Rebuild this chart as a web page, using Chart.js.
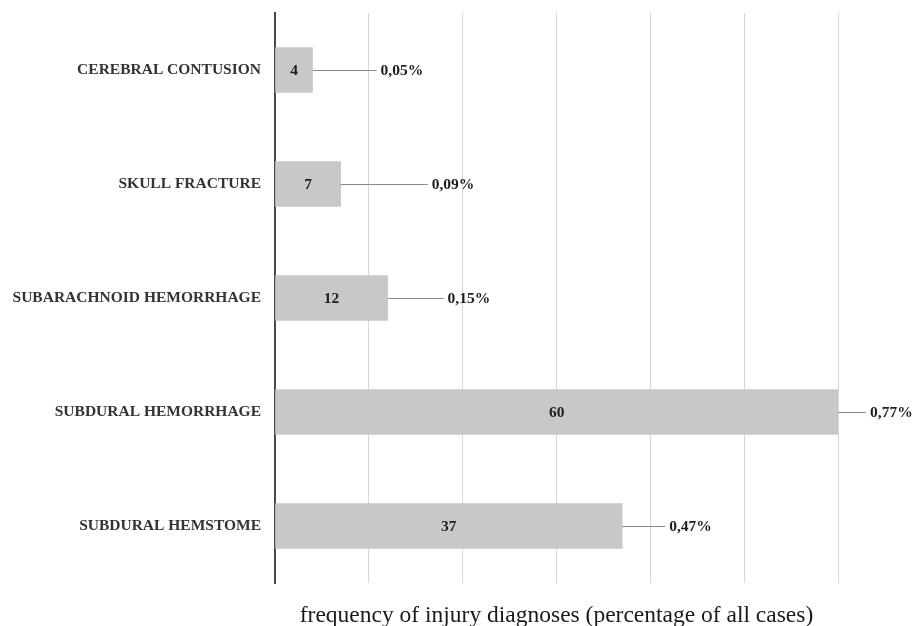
<!DOCTYPE html>
<html>
<head>
<meta charset="utf-8">
<script src="https://cdn.jsdelivr.net/npm/chart.js@4/dist/chart.umd.min.js"></script>
<style>
  html, body { margin: 0; padding: 0; background: #ffffff; }
  #wrap { width: 915px; height: 626px; position: relative; }
</style>
</head>
<body>
<div id="wrap"><canvas id="chart"></canvas></div>
<script>
// Diagnoses and case counts
const categories = [
  'CEREBRAL CONTUSION',
  'SKULL FRACTURE',
  'SUBARACHNOID HEMORRHAGE',
  'SUBDURAL HEMORRHAGE',
  'SUBDURAL HEMSTOME'
];
const caseCounts = [4, 7, 12, 60, 37];
const shareLabels = ['0,05%', '0,09%', '0,15%', '0,77%', '0,47%'];
const axisTitle = 'frequency of injury diagnoses (percentage of all cases)';

// Leader line length (px) from each bar end to its share label
const leaderLengths = [64, 87, 56, 28, 43];

const serifBold = { family: '"Liberation Serif", "Times New Roman", serif', size: 15.5, weight: 'bold' };

// Count inside each bar, and a leader line out to the percentage share
const barAnnotations = {
  id: 'barAnnotations',
  afterDatasetsDraw(chart) {
    const ctx = chart.ctx;
    const meta = chart.getDatasetMeta(0);
    ctx.save();
    ctx.font = `bold ${serifBold.size}px ${serifBold.family}`;
    ctx.textBaseline = 'middle';
    meta.data.forEach((bar, i) => {
      const xStart = bar.base;
      const xEnd = bar.x;
      const y = bar.y;
      // count centred in bar
      ctx.fillStyle = '#1e1e1e';
      ctx.textAlign = 'center';
      ctx.fillText(String(caseCounts[i]), (xStart + xEnd) / 2, y + 1);
      // leader line
      const lineEnd = xEnd + leaderLengths[i];
      ctx.strokeStyle = '#8a8a8a';
      ctx.lineWidth = 1;
      ctx.beginPath();
      ctx.moveTo(xEnd, y + 0.5);
      ctx.lineTo(lineEnd, y + 0.5);
      ctx.stroke();
      // share label
      ctx.fillStyle = '#1e1e1e';
      ctx.textAlign = 'left';
      ctx.fillText(shareLabels[i], lineEnd + 4, y + 1);
    });
    ctx.restore();
  }
};

new Chart(document.getElementById('chart'), {
  type: 'bar',
  data: {
    labels: categories,
    datasets: [{
      data: caseCounts,
      backgroundColor: '#c8c8c8',
      borderWidth: 0,
      barThickness: 45
    }]
  },
  options: {
    indexAxis: 'y',
    responsive: true,
    maintainAspectRatio: false,
    animation: false,
    layout: { padding: { top: 13, right: 77, bottom: 0, left: 0 } },
    plugins: {
      legend: { display: false },
      tooltip: { enabled: false }
    },
    scales: {
      x: {
        min: 0,
        max: 60,
        ticks: { display: false, stepSize: 10 },
        grid: { color: '#d6d6d6', lineWidth: 1, drawTicks: false },
        border: { display: false },
        title: {
          display: true,
          text: axisTitle,
          color: '#1a1a1a',
          font: { family: '"Liberation Serif", "Times New Roman", serif', size: 23.5, lineHeight: 0.85 },
          padding: { top: 0, bottom: 0 }
        },
        afterFit(scale) { scale.height = 43; }
      },
      y: {
        grid: { display: false, drawTicks: false },
        border: { display: true, color: '#4a4a4a', width: 2 },
        ticks: {
          color: '#333333',
          font: serifBold,
          padding: 14
        },
        afterFit(scale) {
          scale.width = 275;
          // the bars sit on category offsets, so no extra room for end labels
          scale.paddingTop = 0;
          scale.paddingBottom = 0;
        }
      }
    }
  },
  plugins: [barAnnotations]
});
</script>
</body>
</html>
